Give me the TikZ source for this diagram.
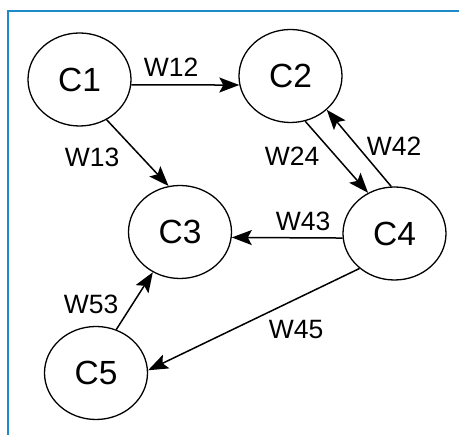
\documentclass[tikz,border=0pt]{standalone}
\usepackage{fontspec}
\setmainfont{Liberation Sans}
\usetikzlibrary{shapes.geometric,arrows.meta}
\definecolor{frameblue}{RGB}{30,139,200}
\tikzset{
  cnode/.style={draw, ellipse, line width=1.3pt, minimum width=103pt, minimum height=93pt, inner sep=0pt, font=\fontsize{33.5}{34}\selectfont},
  wlabel/.style={inner sep=0pt, font=\fontsize{26.5}{27}\selectfont},
  conn/.style={line width=1.5pt, -{Stealth[length=20pt,width=15pt,inset=4pt]}},
}
\begin{document}
\begin{tikzpicture}[x=1pt,y=-1pt]
\useasboundingbox (0,0) rectangle (459,435);
\draw[frameblue, line width=2.2pt] (8,440) -- (8,11) -- (465,11);
\node[cnode] (C1) at (79.5,79.5) {C1};
\node[cnode] (C2) at (290.5,76) {C2};
\node[cnode] (C3) at (180,232) {C3};
\node[cnode] (C4) at (394.5,233.5) {C4};
\node[cnode] (C5) at (96,373) {C5};
\draw[conn] (C1.-6) -- (C2.190);
\draw[conn] (C1.-56.8) -- (C3.104.3);
\draw[conn] (C2.-72.5) -- (C4.123.2);
\draw[conn] (C4.94.3) -- (C2.-43.8);
\draw[conn] (C4.185) -- (C3.-6.7);
\draw[conn] (C4.225.8) -- (C5.3.4);
\draw[conn] (C5.65) -- (C3.236);
\node[wlabel] (w12) at (171,67) {W12};
\node[wlabel] (w13) at (92,157) {W13};
\node[wlabel] (w24) at (292,156) {W24};
\node[wlabel] (w42) at (394,146) {W42};
\node[wlabel] (w43) at (303,221) {W43};
\node[wlabel] (w45) at (296,330) {W45};
\node[wlabel] (w53) at (91,304) {W53};
\end{tikzpicture}
\end{document}
